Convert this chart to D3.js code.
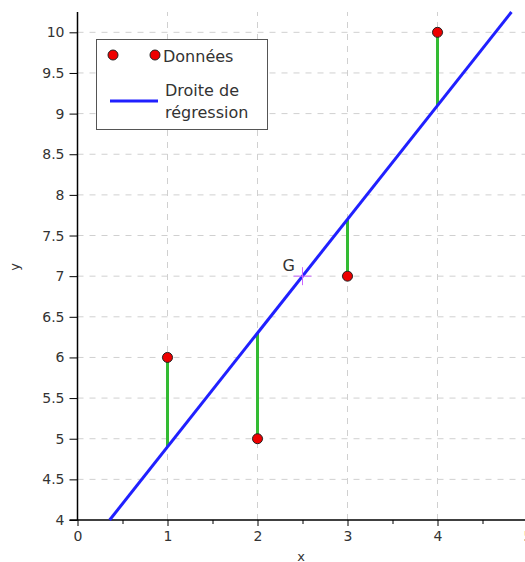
<!DOCTYPE html>
<html>
<head>
    <meta charset="utf-8">
    <title>Régression linéaire</title>
    <style>
        body { margin: 0; background: #fff; }
        text { font-family: "DejaVu Sans", sans-serif; }
    </style>
</head>
<body>
    <script src="https://cdnjs.cloudflare.com/ajax/libs/d3/7.9.0/d3.min.js"></script>
    <script>

        const xs = [1, 2, 3, 4];
        const ys = [6, 5, 7, 10];
        const xTicks = [0, 1, 2, 3, 4, 5];
        const yTicks = [4, 4.5, 5, 5.5, 6, 6.5, 7, 7.5, 8, 8.5, 9, 9.5, 10];
        const legendLabels = ["Données", "Droite de régression"];

        const width = 525;
        const height = 562;

        const svg = d3.select("body")
            .append("svg")
            .attr("width", width)
            .attr("height", height);

        const x = d3.scaleLinear().domain([0, 5]).range([77.5, 527.5]);
        const y = d3.scaleLinear().domain([4, 10.25]).range([520, 12]);

        // least squares fit
        const mx = d3.mean(xs), my = d3.mean(ys);
        const slope = d3.sum(xs, (d, i) => (d - mx) * (ys[i] - my)) / d3.sum(xs, d => (d - mx) ** 2);
        const icpt = my - slope * mx;
        const fit = v => icpt + slope * v;

        // grid
        const grid = svg.append("g")
            .attr("stroke", "#d0d0d0")
            .attr("stroke-dasharray", "6,6");
        grid.selectAll(".gx")
            .data(xTicks.filter(d => d > 0))
            .enter().append("line")
            .attr("x1", d => x(d)).attr("x2", d => x(d))
            .attr("y1", y(4)).attr("y2", y(10.25));
        grid.selectAll(".gy")
            .data(yTicks.filter(d => d > 4))
            .enter().append("line")
            .attr("x1", x(0)).attr("x2", width)
            .attr("y1", d => y(d)).attr("y2", d => y(d));

        // axes
        const yAxis = svg.append("g")
            .attr("transform", `translate(${x(0)},0)`)
            .call(d3.axisLeft(y).tickValues(yTicks).tickSize(8).tickPadding(5)
                .tickFormat(d3.format("")));
        yAxis.select(".domain").attr("d", `M0,${y(4)}V${y(10.25)}`).attr("stroke-width", 1.5);

        const xMinor = svg.append("g")
            .attr("transform", `translate(0,${y(4)})`)
            .call(d3.axisBottom(x).tickValues([0.5, 1.5, 2.5, 3.5, 4.5]).tickSize(4).tickFormat(""));
        xMinor.select(".domain").remove();

        const xAxis = svg.append("g")
            .attr("transform", `translate(0,${y(4)})`)
            .call(d3.axisBottom(x).tickValues(xTicks).tickSize(6).tickPadding(5)
                .tickFormat(d3.format("")));
        xAxis.select(".domain").attr("d", `M${x(0) - 8},0H${width}`).attr("stroke-width", 1.5);

        svg.selectAll(".tick text")
            .attr("font-size", 14)
            .attr("fill", "#333");

        svg.append("text")
            .attr("x", 301).attr("y", 561)
            .attr("text-anchor", "middle")
            .attr("font-size", 13).attr("fill", "#333")
            .text("x");
        svg.append("text")
            .attr("transform", "translate(19,267) rotate(-90)")
            .attr("text-anchor", "middle")
            .attr("font-size", 13).attr("fill", "#333")
            .text("y");

        // residuals
        svg.selectAll(".res")
            .data(xs)
            .enter().append("line")
            .attr("x1", d => x(d)).attr("x2", d => x(d))
            .attr("y1", (d, i) => y(ys[i])).attr("y2", d => y(fit(d)))
            .attr("stroke", "#33bb33")
            .attr("stroke-width", 3);

        // regression line
        const x0 = (4 - icpt) / slope;
        const x1 = (10.25 - icpt) / slope;
        svg.append("line")
            .attr("x1", x(x0)).attr("y1", y(fit(x0)))
            .attr("x2", x(x1)).attr("y2", y(fit(x1)))
            .attr("stroke", "#2020ff")
            .attr("stroke-width", 3);

        // centre of gravity G
        svg.append("path")
            .attr("d", `M${x(mx) - 9},${y(my)}h18M${x(mx)},${y(my) - 9}v18`)
            .attr("stroke", "#cc66ff")
            .attr("stroke-width", 1);
        svg.append("text")
            .attr("x", x(mx) - 20).attr("y", y(my) - 5)
            .attr("font-size", 16).attr("fill", "#333")
            .text("G");

        // data points
        svg.selectAll(".pt")
            .data(xs)
            .enter().append("circle")
            .attr("cx", d => x(d))
            .attr("cy", (d, i) => y(ys[i]))
            .attr("r", 5)
            .attr("fill", "#ee0000")
            .attr("stroke", "#222")
            .attr("stroke-width", 1);

        // legend
        const lg = svg.append("g");
        lg.append("rect")
            .attr("x", 96.5).attr("y", 39.5)
            .attr("width", 171).attr("height", 90)
            .attr("fill", "#fff")
            .attr("stroke", "#555");
        [113, 155].forEach(cx => lg.append("circle")
            .attr("cx", cx).attr("cy", 55).attr("r", 5)
            .attr("fill", "#ee0000").attr("stroke", "#222"));
        lg.append("text")
            .attr("x", 163).attr("y", 62)
            .attr("font-size", 16).attr("fill", "#333")
            .text(legendLabels[0]);
        lg.append("line")
            .attr("x1", 110).attr("x2", 158)
            .attr("y1", 101).attr("y2", 101)
            .attr("stroke", "#2020ff").attr("stroke-width", 3);
        const parts = legendLabels[1].split(" ");
        lg.append("text")
            .attr("x", 165).attr("y", 96)
            .attr("font-size", 16).attr("fill", "#333")
            .text(parts[0] + " " + parts[1]);
        lg.append("text")
            .attr("x", 165).attr("y", 118)
            .attr("font-size", 16).attr("fill", "#333")
            .text(parts[2]);

    </script>
</body>
</html>
